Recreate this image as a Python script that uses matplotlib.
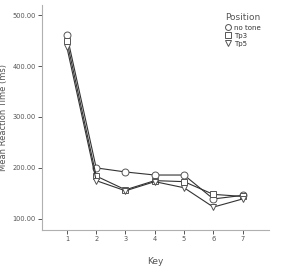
import matplotlib
matplotlib.use("Agg")
import matplotlib.pyplot as plt

keys = [1, 2, 3, 4, 5, 6, 7]
no_tone = [461, 200, 192, 186, 186, 139, 146]
tp3 = [449, 184, 157, 175, 173, 148, 144]
tp5 = [437, 175, 155, 173, 161, 123, 139]
yticks = [100, 200, 300, 400, 500]

fig = plt.figure(figsize=(3.04, 2.66), dpi=100)
ax = fig.add_axes([42 / 304, 36 / 266, 227 / 304, 225 / 266])

style = dict(color="#333333", lw=0.8, markersize=5, markerfacecolor="white",
             markeredgecolor="#555555", markeredgewidth=0.7)
ax.plot(keys, no_tone, marker="o", label="no tone", **style)
ax.plot(keys, tp3, marker="s", label="Tp3", **style)
ax.plot(keys, tp5, marker="v", label="Tp5", **style)

ax.set_xlim(0.15, 7.9)
ax.set_ylim(78, 520)
ax.set_xticks(keys)
ax.set_yticks(yticks)
ax.set_yticklabels([f"{v:.2f}" for v in yticks])

for s in ["top", "right"]:
    ax.spines[s].set_visible(False)
for s in ["left", "bottom"]:
    ax.spines[s].set_color("#b0b0b0")
    ax.spines[s].set_linewidth(0.8)
ax.tick_params(axis="both", labelsize=4.8, labelcolor="#555555", color="#555555",
               length=3, width=0.7, direction="out", pad=1.5)

ax.set_xlabel("Key", fontsize=6.5, color="#555555")
ax.set_ylabel("Mean Reaction Time (ms)", fontsize=6, color="#555555")
ax.xaxis.set_label_coords(0.5, -0.12)
ax.yaxis.set_label_coords(-0.15, 0.5)

leg = ax.legend(title="Position", loc="upper right", bbox_to_anchor=(0.99, 0.99),
                frameon=False, fontsize=5, title_fontsize=6.5, handlelength=0.8,
                handletextpad=0.4, labelspacing=0.3, markerscale=0.85)
leg._legend_box.align = "left"
for h in leg.legend_handles:
    h.set_linestyle("none")
for t in leg.get_texts():
    t.set_color("#333333")
leg.get_title().set_color("#555555")

fig.savefig("out.png", dpi=100)
